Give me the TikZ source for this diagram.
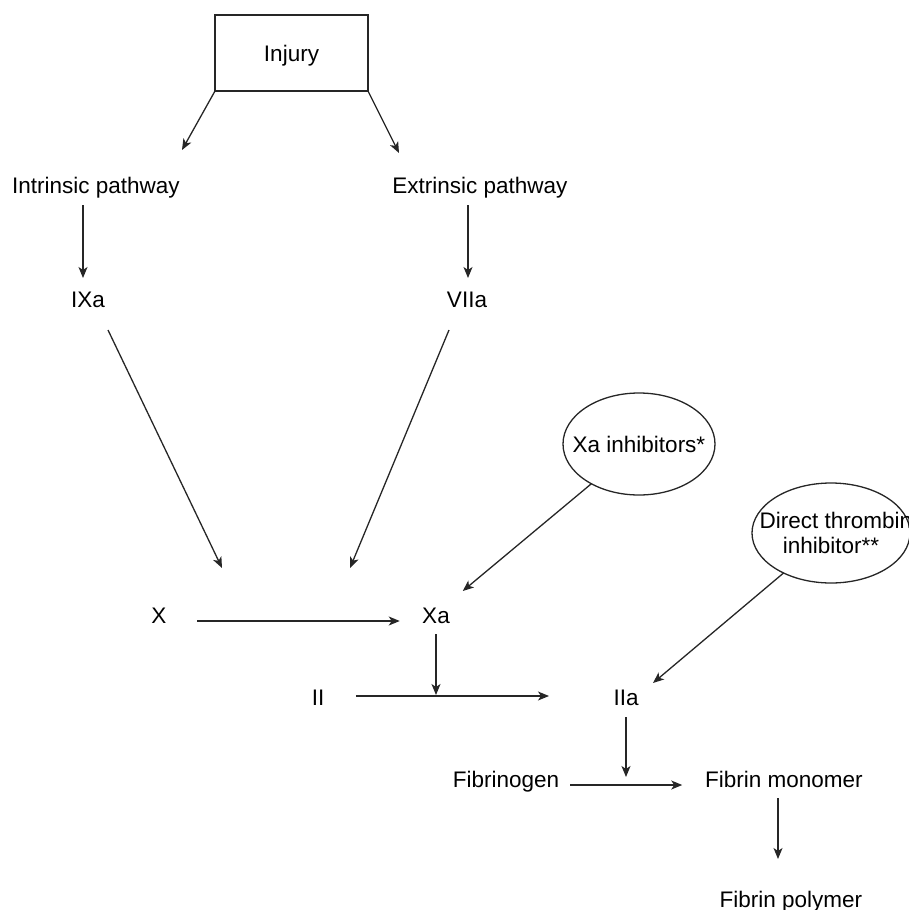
\documentclass[tikz,border=0pt]{standalone}
\usepackage{fontspec}
\setmainfont{Liberation Sans}
\usetikzlibrary{arrows.meta,calc,shapes.geometric}
\begin{document}
\begin{tikzpicture}[x=1pt,y=-1pt,
  txt/.style={font=\fontsize{22.5}{25}\selectfont},
  lbl/.style={txt,inner sep=0pt,outer sep=0pt,text height=16pt,text depth=5pt,anchor=base},
  arr/.style={draw=black!85,line width=1.3pt,-{Stealth[length=11pt,width=9pt,inset=3pt]}},
  bubble/.style={txt,draw=black!85,line width=1.3pt,ellipse,inner sep=0pt,outer sep=0pt},
  boxnode/.style={txt,draw=black!85,line width=1.3pt,inner sep=0pt,outer sep=0pt}]
\useasboundingbox (0,0) rectangle (909,910);

% nodes
\node[boxnode,minimum width=153pt,minimum height=76pt,text height=16pt,text depth=0pt] (inj) at (291.5,53) {Injury};
\node[lbl] (intr) at (96,193) {Intrinsic pathway};
\node[lbl] (extr) at (480,193) {Extrinsic pathway};
\node[lbl] (ixa) at (88,307) {IXa};
\node[lbl] (viia) at (467,307) {VIIa};
\node[bubble,minimum width=152pt,minimum height=102pt,text height=16pt,text depth=0pt] (xainh) at (639,444) {\makebox[0pt]{Xa inhibitors*}};
\node[bubble,minimum width=158pt,minimum height=100pt,align=center] (dti) at (831,533) {\makebox[0pt]{\hspace{10pt}Direct thrombin}\\\makebox[0pt]{inhibitor**}};
\node[lbl] (x) at (159,623) {X};
\node[lbl] (xa) at (436,623) {Xa};
\node[lbl] (ii) at (318,705) {II};
\node[lbl] (iia) at (626,705) {IIa};
\node[lbl] (fibg) at (506,787) {Fibrinogen};
\node[lbl] (fibm) at (784,787) {Fibrin monomer};
\node[lbl] (fibp) at (791,907) {Fibrin polymer};

% free ends
\coordinate (m1) at (222,568);
\coordinate (m2) at (350,568);
\coordinate (j1) at (436,695);
\coordinate (j2) at (626,777);

% connectors
\draw[arr] (inj.south west) -- ($(intr.north)+(86,-27)$);
\draw[arr] (inj.south east) -- ($(extr.north)+(-81,-24)$);
\draw[arr] ($(intr.south)+(-13,7)$) -- ($(ixa.north)+(-5,-13)$);
\draw[arr] ($(extr.south)+(-12,7)$) -- ($(viia.north)+(1,-13)$);
\draw[arr] ($(ixa.south)+(20,18)$) -- (m1);
\draw[arr] ($(viia.south)+(-18,18)$) -- (m2);
\draw[arr] (xainh) -- ($(xa.north east)+(13,-16)$);
\draw[arr] (dti) -- ($(iia.north east)+(14.5,-6)$);
\draw[arr] ($(x.east)+(30.5,3.5)$) -- ($(xa.west)+(-22.5,3.5)$);
\draw[arr] ($(xa.south)+(0,6)$) -- (j1);
\draw[arr] ($(ii.east)+(31.5,-3.5)$) -- ($(iia.west)+(-64.5,-3.5)$);
\draw[arr] ($(iia.south)+(0,7)$) -- (j2);
\draw[arr] ($(fibg.east)+(11,3.5)$) -- ($(fibm.west)+(-23,3.5)$);
\draw[arr] ($(fibm.south)+(-6,6)$) -- ($(fibp.north)+(-13,-32)$);
\end{tikzpicture}
\end{document}
